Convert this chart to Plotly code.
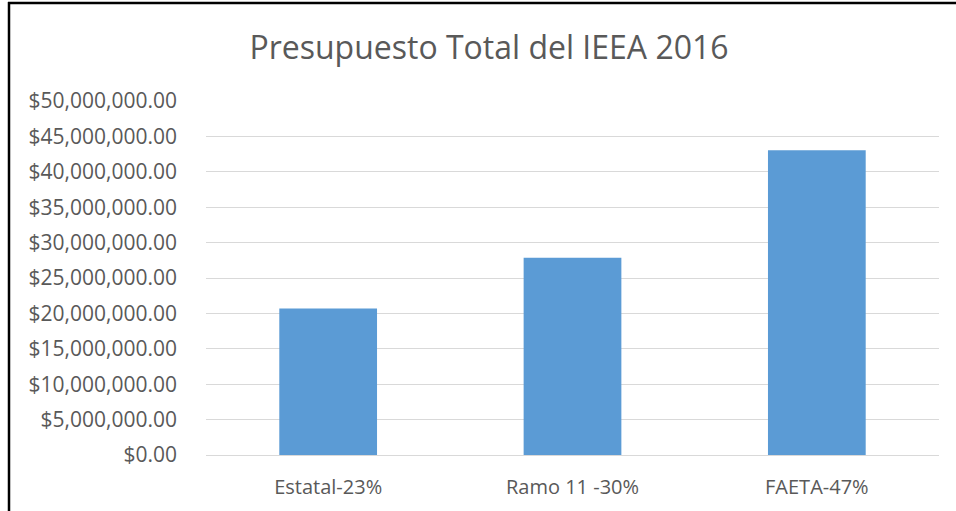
import plotly.graph_objects as go

categories = ["Estatal-23%", "Ramo 11 -30%", "FAETA-47%"]
values = [20700000, 27870000, 43060000]
y_ticks = [0, 5e6, 10e6, 15e6, 20e6, 25e6, 30e6, 35e6, 40e6, 45e6, 50e6]
title_text = "Presupuesto Total del IEEA 2016"

W, H = 956, 511
L, R, T, B = 206, 17, 101, 56
pw, ph = W - L - R, H - T - B

def px_x(p):
    return (p - L) / pw

def px_y(p):
    return (H - B - p) / ph

fig = go.Figure(go.Bar(
    x=categories, y=values, marker=dict(color="#5b9bd5", line=dict(width=0)),
    width=0.4,
))

font = "Open Sans, Lato, sans-serif"
fig.update_layout(
    width=W, height=H,
    margin=dict(l=L, r=R, t=T, b=B, pad=0),
    paper_bgcolor="white", plot_bgcolor="white",
    showlegend=False,
    title=dict(text=title_text, x=489 / W, xref="container", xanchor="center",
               y=1 - 48 / H, yanchor="middle", yref="container",
               font=dict(family=font, size=32, color="#595959")),
    font=dict(family=font, color="#595959"),
    bargap=0.6,
)
fig.update_xaxes(showgrid=False, showline=False, ticks="", tickfont=dict(size=20, color="#595959"),
                 ticklabelstandoff=18)
fig.update_yaxes(range=[0, 50e6], tickvals=y_ticks, tickformat="$,.2f",
                 showgrid=True, gridcolor="#d9d9d9", gridwidth=1,
                 zeroline=True, zerolinecolor="#d9d9d9", zerolinewidth=1,
                 showline=False, ticks="", tickfont=dict(size=21, color="#595959"),
                 ticklabelstandoff=28)

fig.add_shape(type="line", xref="paper", yref="paper",
              x0=px_x(9), x1=px_x(9), y0=px_y(2), y1=px_y(520),
              line=dict(color="black", width=2.5))
fig.add_shape(type="line", xref="paper", yref="paper",
              x0=px_x(8), x1=px_x(970), y0=px_y(3), y1=px_y(3),
              line=dict(color="black", width=2.5))

fig.write_html("out.html", config={"displayModeBar": False},
               post_script="document.body.style.margin='0';")
